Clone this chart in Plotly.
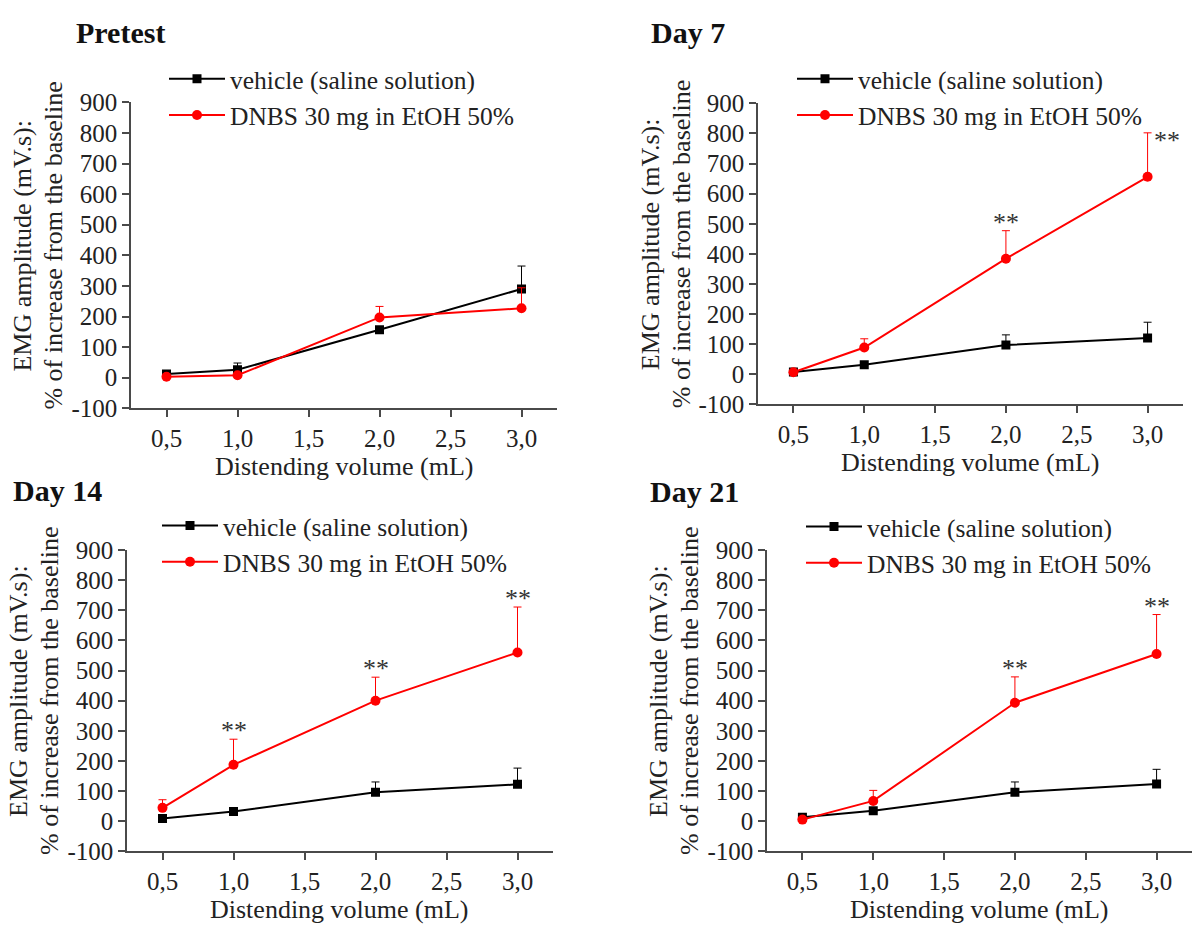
import plotly.graph_objects as go

# ---------------- data ----------------
volumes = [0.5, 1.0, 2.0, 3.0]
x_tickvals = [0.5, 1.0, 1.5, 2.0, 2.5, 3.0]
x_ticktext = ["0,5", "1,0", "1,5", "2,0", "2,5", "3,0"]
y_tickvals = [-100, 0, 100, 200, 300, 400, 500, 600, 700, 800, 900]
y_ticktext = ["-100", "0", "100", "200", "300", "400", "500", "600", "700", "800", "900"]

panels = ["Pretest", "Day 7", "Day 14", "Day 21"]
series_names = ["vehicle (saline solution)", "DNBS 30 mg in EtOH 50%"]

pretest_vehicle = [12, 26, 157, 290]
pretest_vehicle_err = [5, 22, 4, 75]
pretest_dnbs = [3, 8, 197, 227]
pretest_dnbs_err = [3, 4, 36, 67]
pretest_sig = ["", "", "", ""]

day7_vehicle = [8, 32, 97, 121]
day7_vehicle_err = [3, 4, 34, 52]
day7_dnbs = [7, 89, 384, 656]
day7_dnbs_err = [4, 29, 93, 146]
day7_sig = ["", "", "**", "**"]

day14_vehicle = [9, 32, 96, 122]
day14_vehicle_err = [3, 4, 34, 54]
day14_dnbs = [44, 187, 400, 560]
day14_dnbs_err = [27, 85, 78, 151]
day14_sig = ["", "**", "**", "**"]

day21_vehicle = [13, 34, 96, 123]
day21_vehicle_err = [3, 4, 34, 49]
day21_dnbs = [5, 67, 393, 555]
day21_dnbs_err = [3, 35, 86, 131]
day21_sig = ["", "", "**", "**"]

vehicle_values = [pretest_vehicle, day7_vehicle, day14_vehicle, day21_vehicle]
vehicle_errors = [pretest_vehicle_err, day7_vehicle_err, day14_vehicle_err, day21_vehicle_err]
dnbs_values = [pretest_dnbs, day7_dnbs, day14_dnbs, day21_dnbs]
dnbs_errors = [pretest_dnbs_err, day7_dnbs_err, day14_dnbs_err, day21_dnbs_err]
significance = [pretest_sig, day7_sig, day14_sig, day21_sig]

x_title = "Distending volume (mL)"
y_title_line1 = "EMG amplitude (mV.s):"
y_title_line2 = "% of increase from the baseline"

# ---------------- layout geometry (pixels) ----------------
W, H = 1198, 940
# plot-area boxes: left, right, top, bottom
boxes = [(131, 557, 92, 407), (758, 1183, 93, 403), (127, 553, 553, 863), (767, 1192, 553, 863)]
title_pos = [(74, 20), (649, 20), (11, 492), (648, 493)]
legend_line_left = [169, 797, 162, 806]
legend_top = [44, 44, 504, 505]
# star placement: "above" the error-bar cap or to the "right" of it
star_side = [{}, {3: "right"}, {}, {}]

FONT = "Liberation Serif, Times New Roman, serif"
TXT = "#222222"
AXC = "#4a4a4a"
SERIES_COLORS = ["#000000", "#ff0000"]
SERIES_SYMBOLS = ["square", "circle"]
SERIES_SIZES = [9, 10]

fig = go.Figure()
layout = dict(
    width=W, height=H, autosize=False,
    margin=dict(l=0, r=0, t=0, b=0),
    paper_bgcolor="white", plot_bgcolor="white",
    font=dict(family=FONT, size=25, color=TXT),
    showlegend=True,
)
annotations = []

for i, name in enumerate(panels):
    sfx = "" if i == 0 else str(i + 1)
    l, r, t, b = boxes[i]
    xd = [l / W, r / W]
    yd = [1 - b / H, 1 - t / H]
    legend_key = "legend" if i == 0 else f"legend{i + 1}"
    data_sets = [(vehicle_values[i], vehicle_errors[i]), (dnbs_values[i], dnbs_errors[i])]
    for s, (vals, errs) in enumerate(data_sets):
        fig.add_trace(go.Scatter(
            x=volumes, y=vals, name=series_names[s], mode="lines+markers",
            xaxis="x" + sfx, yaxis="y" + sfx, legend=legend_key,
            line=dict(color=SERIES_COLORS[s], width=2),
            marker=dict(symbol=SERIES_SYMBOLS[s], size=SERIES_SIZES[s], color=SERIES_COLORS[s]),
            error_y=dict(type="data", symmetric=False, array=errs, arrayminus=[0] * len(errs),
                         color=SERIES_COLORS[s], thickness=1, width=4),
            hoverinfo="x+y",
        ))
    axis_common = dict(
        showline=True, linecolor=AXC, linewidth=1.5, ticks="outside", ticklen=7,
        tickcolor=AXC, tickwidth=1.5, showgrid=False, zeroline=False,
        tickfont=dict(family=FONT, size=25, color=TXT),
    )
    layout["xaxis" + sfx] = dict(
        domain=xd, anchor="y" + sfx, range=[0.25, 3.25],
        tickmode="array", tickvals=x_tickvals, ticktext=x_ticktext, **axis_common,
    )
    layout["yaxis" + sfx] = dict(
        domain=yd, anchor="x" + sfx, range=[-100, 900],
        tickmode="array", tickvals=y_tickvals, ticktext=y_ticktext, **axis_common,
    )
    layout[legend_key] = dict(
        x=(legend_line_left[i] - 5) / W, y=1 - legend_top[i] / H,
        xanchor="left", yanchor="top", bgcolor="rgba(0,0,0,0)", itemwidth=56,
        font=dict(family=FONT, size=25.5, color=TXT), tracegroupgap=0,
    )
    # panel title
    tx, ty = title_pos[i]
    annotations.append(dict(text="<b>" + name + "</b>", x=tx / W, y=1 - ty / H,
                            xref="paper", yref="paper", xanchor="left", yanchor="middle",
                            showarrow=False, font=dict(family=FONT, size=30, color="#111111")))
    # x-axis title
    annotations.append(dict(text=x_title, x=(l + r) / 2 / W, y=1 - (b + 60) / H,
                            xref="paper", yref="paper", xanchor="center", yanchor="middle",
                            showarrow=False, font=dict(family=FONT, size=26, color=TXT)))
    # y-axis title (two lines)
    yc = 1 - ((t + b) / 2 - 10) / H
    annotations.append(dict(text=y_title_line1, x=(l - 108) / W, y=yc, xref="paper", yref="paper",
                            xanchor="center", yanchor="middle", textangle=-90, showarrow=False,
                            font=dict(family=FONT, size=26, color=TXT)))
    annotations.append(dict(text=y_title_line2, x=(l - 77) / W, y=yc, xref="paper", yref="paper",
                            xanchor="center", yanchor="middle", textangle=-90, showarrow=False,
                            font=dict(family=FONT, size=26, color=TXT)))
    # significance stars
    for k, sig in enumerate(significance[i]):
        if not sig:
            continue
        cap = dnbs_values[i][k] + dnbs_errors[i][k]
        if star_side[i].get(k) == "right":
            annotations.append(dict(text=sig, x=volumes[k], y=cap, xref="x" + sfx, yref="y" + sfx,
                                    xanchor="left", yanchor="middle", xshift=4, yshift=-8,
                                    showarrow=False, font=dict(family=FONT, size=26, color="#333333")))
        else:
            annotations.append(dict(text=sig, x=volumes[k], y=cap, xref="x" + sfx, yref="y" + sfx,
                                    xanchor="center", yanchor="bottom", yshift=-8,
                                    showarrow=False, font=dict(family=FONT, size=26, color="#333333")))

layout["annotations"] = annotations
fig.update_layout(**layout)
fig.write_html("out.html", config={"displayModeBar": False},
               post_script="document.body.style.margin='0';document.body.style.overflow='hidden';")
